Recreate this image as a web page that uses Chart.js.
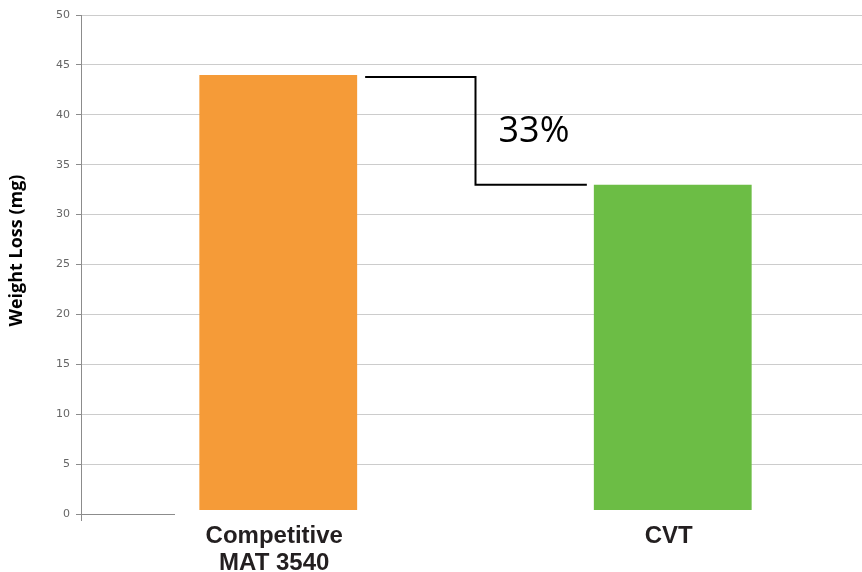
<!DOCTYPE html>
<html>
<head>
<meta charset="utf-8">
<script src="https://cdn.jsdelivr.net/npm/chart.js@4.4.1/dist/chart.umd.min.js"></script>
<style>
  html, body { margin: 0; padding: 0; background: #fff; overflow: hidden; }
  canvas { display: block; }
</style>
</head>
<body>
<!-- a área do gráfico passa um pouco da borda direita da janela -->
<canvas id="grafico" width="870" height="572"></canvas>
<script>
const categorias = [["Competitive", "MAT 3540"], "CVT"];
const perdaPeso = [44, 33];
const coresBarras = ["#F59B38", "#6CBD45"];
const tituloY = "Weight Loss (mg)";

// redução relativa, escrita ao lado do degrau
const reducao = Math.round((perdaPeso[0] - perdaPeso[1]) / perdaPeso[1] * 100);

const degrau = {
  id: "degrau",
  afterDatasetsDraw(chart) {
    const { ctx, chartArea, scales: { y } } = chart;
    const barras = chart.getDatasetMeta(0).data;
    const b1 = barras[0], b2 = barras[1];
    const y0 = y.getPixelForValue(0);
    ctx.save();

    // faixa branca: linha do zero só aparece no toco da esquerda
    ctx.fillStyle = "#fff";
    ctx.fillRect(175, y0 - 4, chartArea.right - 175 + 10, 7);

    // eixo Y desce um pouco abaixo do zero
    ctx.strokeStyle = "#8c8c8c";
    ctx.lineWidth = 1;
    ctx.beginPath();
    ctx.moveTo(chartArea.left + 0.5, y0);
    ctx.lineTo(chartArea.left + 0.5, y0 + 7);
    ctx.stroke();

    // conector em degrau entre as barras
    const xa = b1.x + b1.width / 2 + 8;
    const xb = b2.x - b2.width / 2 - 7;
    const xm = (b1.x + b1.width / 2 + b2.x - b2.width / 2) / 2;
    const ya = b1.y + 2;
    const yb = b2.y;
    ctx.strokeStyle = "#000";
    ctx.lineWidth = 2;
    ctx.beginPath();
    ctx.moveTo(xa, ya);
    ctx.lineTo(xm, ya);
    ctx.lineTo(xm, yb);
    ctx.lineTo(xb, yb);
    ctx.stroke();

    ctx.fillStyle = "#000";
    ctx.font = "36px 'Open Sans'";
    ctx.textAlign = "left";
    ctx.textBaseline = "middle";
    ctx.fillText(reducao + "%", xm + 23, (ya + yb) / 2 + 1);

    // título do eixo Y, um pouco acima do meio
    const a = chart.chartArea;
    ctx.translate(17, (a.top + a.bottom) / 2 - 14);
    ctx.rotate(-Math.PI / 2);
    ctx.font = "bold 18px 'Open Sans'";
    ctx.textAlign = "center";
    ctx.fillText(tituloY, 0, 0);
    ctx.restore();
  }
};

new Chart(document.getElementById("grafico"), {
  type: "bar",
  data: {
    labels: categorias,
    datasets: [{
      data: perdaPeso,
      backgroundColor: coresBarras,
      borderWidth: 0,
      categoryPercentage: 1,
      barPercentage: 0.4
    }]
  },
  options: {
    responsive: false,
    animation: false,
    layout: { padding: { top: 15, right: 0, bottom: 0, left: 0 } },
    plugins: { legend: { display: false }, tooltip: { enabled: false } },
    scales: {
      x: {
        grid: { display: false },
        border: { display: false },
        ticks: {
          color: "#231f20",
          padding: 1,
          labelOffset: -4,
          font: { family: "'Liberation Sans', Arial", size: 24, weight: "bold", lineHeight: 1.12 }
        },
        afterFit: (s) => { s.height = 58; }
      },
      y: {
        min: 0,
        max: 50,
        ticks: {
          stepSize: 5,
          color: "#666666",
          padding: 6,
          font: { family: "'DejaVu Sans'", size: 11 }
        },
        grid: {
          color: (c) => c.tick && c.tick.value === 0 ? "#8c8c8c" : "#cccccc",
          tickColor: "#8c8c8c",
          tickLength: 5
        },
        border: { display: true, color: "#8c8c8c", width: 1 },
        afterFit: (s) => { s.width = 81; }
      }
    }
  },
  plugins: [degrau]
});
</script>
</body>
</html>
